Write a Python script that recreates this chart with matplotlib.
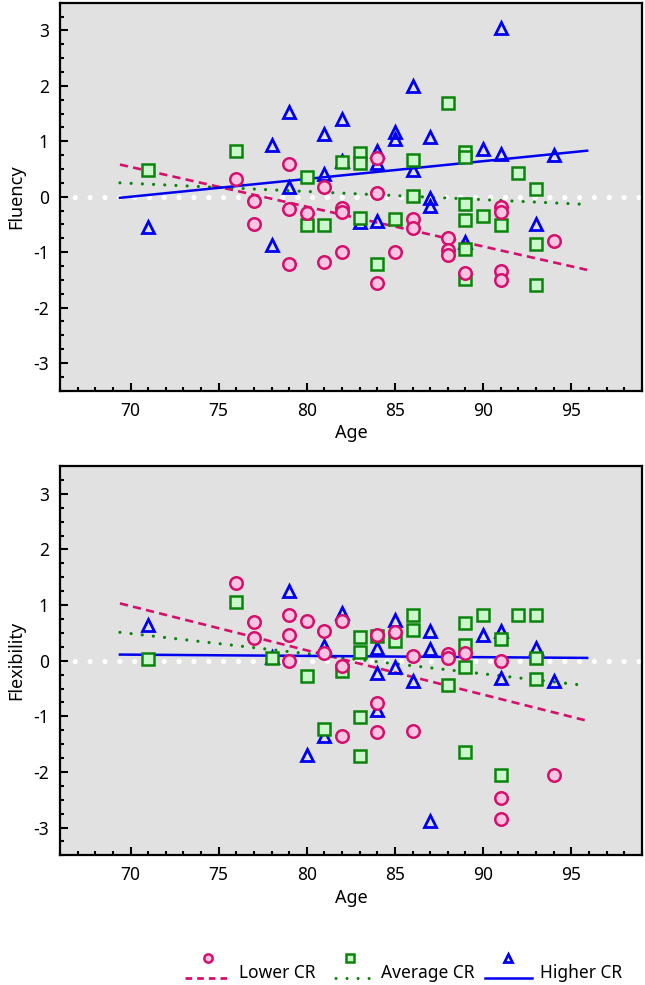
import numpy as np
import matplotlib.pyplot as plt
from matplotlib.lines import Line2D
from matplotlib.legend_handler import HandlerLine2D, HandlerTuple
from matplotlib.ticker import MultipleLocator

plt.rcParams['font.family'] = ['Noto Sans', 'DejaVu Sans']
plt.rcParams['axes.unicode_minus'] = False

# ---- Fluency (top panel) ----
low_flu_age = [76, 77, 77, 79, 79, 79, 80, 81, 81, 82, 82, 82, 84, 84, 84, 85, 86, 86,
               88, 88, 88, 89, 91, 91, 91, 91, 94]
low_flu_val = [0.32, -0.07, -0.50, 0.59, -0.22, -1.21, -0.30, 0.18, -1.18, -0.21, -0.28, -1.00,
               0.69, 0.06, -1.56, -1.00, -0.41, -0.56, -0.75, -0.97, -1.06, -1.38,
               -0.18, -0.27, -1.34, -1.51, -0.80]

avg_flu_age = [71, 76, 80, 80, 81, 82, 83, 83, 83, 84, 85, 86, 86, 88, 89, 89, 89, 89, 89, 89,
               90, 91, 92, 93, 93, 93]
avg_flu_val = [0.49, 0.83, 0.35, -0.51, -0.51, 0.63, 0.78, 0.60, -0.39, -1.22, -0.41, 0.67, 0.01,
               1.69, 0.81, 0.71, -0.13, -0.42, -0.95, -1.48, -0.35, -0.51, 0.42, 0.13, -0.86, -1.60]

high_flu_age = [71, 78, 78, 79, 79, 81, 81, 82, 82, 83, 84, 84, 84, 85, 85, 86, 86, 87, 87, 87,
                89, 90, 91, 91, 93, 94]
high_flu_val = [-0.54, 0.93, -0.875, 1.53, 0.18, 1.13, 0.41, 1.40, 0.65, -0.45, 0.83, 0.61, -0.44,
                1.17, 1.04, 2.00, 0.48, 1.07, -0.03, -0.17, -0.82, 0.855, 3.05, 0.77, -0.50, 0.75]

# ---- Flexibility (bottom panel) ----
low_flex_age = [76, 77, 77, 79, 79, 79, 80, 81, 81, 82, 82, 82, 84, 84, 84, 85, 86, 86,
                88, 88, 89, 91, 91, 91, 94]
low_flex_val = [1.40, 0.70, 0.40, 0.83, 0.47, 0.00, 0.71, 0.53, 0.13, 0.72, -0.10, -1.35,
                0.47, -0.76, -1.29, 0.52, 0.08, -1.27, 0.12, 0.04, 0.14, 0.00, -2.47, -2.85, -2.05]

avg_flex_age = [71, 76, 78, 80, 81, 82, 83, 83, 83, 83, 84, 85, 86, 86, 88, 89, 89, 89, 89,
                90, 91, 91, 92, 93, 93, 93]
avg_flex_val = [0.03, 1.06, 0.05, -0.27, -1.23, -0.19, 0.43, 0.15, -1.02, -1.71, 0.45, 0.35,
                0.83, 0.55, -0.43, 0.67, 0.29, -0.11, -1.64, 0.83, 0.39, -2.05, 0.83, 0.83,
                0.05, -0.33]

high_flex_age = [71, 78, 79, 80, 81, 81, 82, 84, 84, 84, 85, 85, 86, 87, 87, 87, 90, 91, 91,
                 93, 94]
high_flex_val = [0.65, 0.07, 1.26, -1.69, 0.26, -1.36, 0.86, 0.23, -0.22, -0.88, 0.73, -0.11,
                 -0.37, 0.54, 0.21, -2.88, 0.47, 0.53, -0.31, 0.23, -0.37]

# fitted lines (start, end)
fit_age = [69.4, 95.9]
low_flu_fit = [0.58, -1.32]
avg_flu_fit = [0.25, -0.14]
high_flu_fit = [-0.02, 0.83]
low_flex_fit = [1.03, -1.08]
avg_flex_fit = [0.51, -0.45]
high_flex_fit = [0.11, 0.05]

pink, pink_fill = '#d4106c', '#f8c4e2'
green, green_fill = '#0a840a', '#ccf6cc'
blue = '#0000f0'
bg = '#e1e1e1'


def panel(ax, ylabel, low, avg, high, fits):
    ax.set_facecolor(bg)
    ax.axhline(0, color='white', lw=3.8, ls=(0, (0.01, 2.8)), dash_capstyle='round', zorder=1)
    ax.plot(fit_age, fits[0], color=pink, lw=1.9, ls=(0, (3.1, 2.0)), zorder=2)
    ax.plot(fit_age, fits[1], color=green, lw=2.3, ls=(0, (0.01, 3.5)),
            dash_capstyle='round', zorder=2)
    ax.plot(fit_age, fits[2], color=blue, lw=1.8, zorder=2)
    ax.plot(high[0], high[1], ls='none', marker='^', ms=8.5, mfc='none', mec=blue, mew=2, zorder=3)
    ax.plot(avg[0], avg[1], ls='none', marker='s', ms=8, mfc=green_fill, mec=green, mew=1.8, zorder=4)
    ax.plot(low[0], low[1], ls='none', marker='o', ms=9, mfc=pink_fill, mec=pink, mew=1.8, zorder=5)

    ax.set_xlim(66, 99)
    ax.set_ylim(-3.5, 3.5)
    ax.set_xticks([70, 75, 80, 85, 90, 95])
    ax.set_yticks([-3, -2, -1, 0, 1, 2, 3])
    ax.xaxis.set_minor_locator(MultipleLocator(1))
    ax.yaxis.set_minor_locator(MultipleLocator(0.25))
    ax.tick_params(which='both', direction='in', top=False, right=False, labelsize=12.5, width=1.5)
    ax.tick_params(which='major', length=6, pad=8)
    ax.tick_params(which='minor', length=3)
    for s in ax.spines.values():
        s.set_linewidth(1.6)
    ax.set_xlabel('Age', fontsize=13, labelpad=3)
    ax.set_ylabel(ylabel, fontsize=13, labelpad=6)


fig = plt.figure(figsize=(6.45, 9.85), dpi=100)
ax1 = fig.add_axes([0.093, 0.6033, 0.902, 0.394])
ax2 = fig.add_axes([0.093, 0.1316, 0.902, 0.3953])

panel(ax1, 'Fluency', (low_flu_age, low_flu_val), (avg_flu_age, avg_flu_val),
      (high_flu_age, high_flu_val), (low_flu_fit, avg_flu_fit, high_flu_fit))
panel(ax2, 'Flexibility', (low_flex_age, low_flex_val), (avg_flex_age, avg_flex_val),
      (high_flex_age, high_flex_val), (low_flex_fit, avg_flex_fit, high_flex_fit))


# legend: marker sits above the line sample
class Shifted(HandlerLine2D):
    def __init__(self, dy, **kw):
        super().__init__(**kw)
        self.dy = dy

    def create_artists(self, legend, orig_handle, xdescent, ydescent, width, height, fontsize, trans):
        arts = super().create_artists(legend, orig_handle, xdescent, ydescent, width, height,
                                      fontsize, trans)
        for a in arts:
            a.set_ydata(np.asarray(a.get_ydata()) + self.dy)
        return arts


mk_low = Line2D([], [], ls='none', marker='o', ms=6, mfc=pink_fill, mec=pink, mew=1.8)
mk_avg = Line2D([], [], ls='none', marker='s', ms=6, mfc=green_fill, mec=green, mew=1.8)
mk_high = Line2D([], [], ls='none', marker='^', ms=6, mfc='none', mec=blue, mew=2)
ln_low = Line2D([], [], color=pink, lw=2, ls=(0, (2.4, 1.8)))
ln_avg = Line2D([], [], color=green, lw=2.2, ls=(0.5, (0.01, 3.6)), dash_capstyle='round')
ln_high = Line2D([], [], color=blue, lw=1.8)

hmap = {tuple: HandlerTuple(ndivide=1, pad=0)}
for m in (mk_low, mk_avg, mk_high):
    hmap[m] = Shifted(10)
for l in (ln_low, ln_avg, ln_high):
    hmap[l] = Shifted(-4)

fig.legend([(ln_low, mk_low), (ln_avg, mk_avg), (ln_high, mk_high)],
           ['Lower CR', 'Average CR', 'Higher CR'], handler_map=hmap,
           loc='lower center', bbox_to_anchor=(0.625, -0.013), ncol=3, frameon=False,
           fontsize=12.5, handlelength=2.7, handletextpad=0.45, columnspacing=0.6)

fig.savefig('out.png', dpi=100)
